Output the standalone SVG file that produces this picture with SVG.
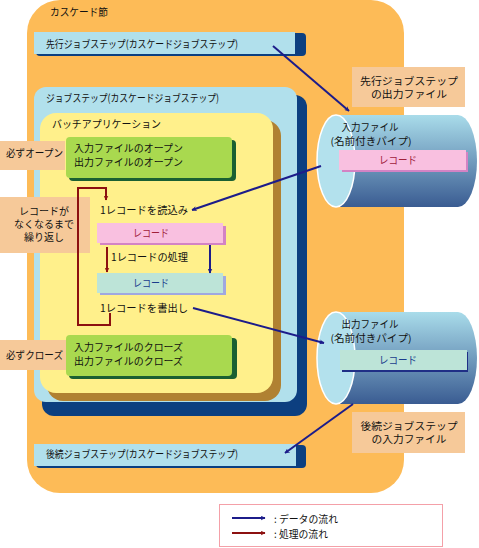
<svg xmlns="http://www.w3.org/2000/svg" width="479" height="548" viewBox="0 0 479 548">
<defs>
<linearGradient id="cyl" x1="0" y1="0" x2="0" y2="1">
<stop offset="0" stop-color="#a9dcea"/>
<stop offset="1" stop-color="#3a5c92"/>
</linearGradient>
<marker id="ab" viewBox="0 0 10 10" refX="9" refY="5" markerWidth="5" markerHeight="5" orient="auto" markerUnits="userSpaceOnUse">
<path d="M0,0 L10,5 L0,10 L3,5 Z" fill="#1c1c8a"/>
</marker>
<marker id="ar" viewBox="0 0 10 10" refX="9" refY="5" markerWidth="5" markerHeight="5" orient="auto" markerUnits="userSpaceOnUse">
<path d="M0,0 L10,5 L0,10 L3,5 Z" fill="#8c1010"/>
</marker>
</defs>
<style>
text{font-family:"Noto Sans CJK JP","Noto Sans",sans-serif;font-size:10.5px;fill:#111}
.c{text-anchor:middle}
.s{font-size:10px}
.peach{fill:#f6c999}
.lb{fill:#b1e0ec}
.db{fill:#0c3f80}
.blue{stroke:#1c1c8a;stroke-width:2;fill:none;marker-end:url(#ab)}
.redA{stroke:#8c1010;stroke-width:2;fill:none;marker-end:url(#ar)}
</style>

<g id="cascade">
<rect x="27" y="0" width="377" height="493" rx="33" fill="#fdbb57"/>
<text x="50" y="16" textLength="58" lengthAdjust="spacingAndGlyphs">カスケード節</text>
</g>

<g id="prevStep">
<rect x="36" y="33" width="270" height="23" rx="4" class="db"/>
<rect x="34" y="32" width="261" height="22" class="lb"/>
<text x="46" y="48" textLength="192" lengthAdjust="spacingAndGlyphs">先行ジョブステップ(カスケードジョブステップ)</text>
</g>

<g id="jobStep">
<rect x="42" y="95" width="265" height="321" rx="12" class="db"/>
<rect x="34" y="87" width="263" height="315" rx="12" class="lb"/>
<text x="46" y="102" textLength="173" lengthAdjust="spacingAndGlyphs">ジョブステップ(カスケードジョブステップ)</text>
</g>

<g id="batchApp">
<rect x="47" y="120" width="234" height="281" rx="16" fill="#b08132"/>
<rect x="40" y="113" width="233" height="280" rx="16" fill="#fff08b"/>
<text x="52" y="128" textLength="109" lengthAdjust="spacingAndGlyphs">バッチアプリケーション</text>
</g>

<g id="openBox">
<rect x="69" y="140" width="167" height="41" rx="4" fill="#1a6032"/>
<rect x="66" y="137" width="166" height="41" rx="4" fill="#a9d94f"/>
<text class="s" x="74" y="152" textLength="109" lengthAdjust="spacingAndGlyphs">入力ファイルのオープン</text>
<text class="s" x="74" y="166" textLength="109" lengthAdjust="spacingAndGlyphs">出力ファイルのオープン</text>
</g>

<g id="closeBox">
<rect x="69" y="338" width="168" height="41" rx="4" fill="#1a6032"/>
<rect x="66" y="335" width="166" height="41" rx="4" fill="#a9d94f"/>
<text class="s" x="74" y="351" textLength="109" lengthAdjust="spacingAndGlyphs">入力ファイルのクローズ</text>
<text class="s" x="74" y="365" textLength="109" lengthAdjust="spacingAndGlyphs">出力ファイルのクローズ</text>
</g>

<g id="mustOpen">
<rect x="0" y="141" width="65" height="29" class="peach"/>
<text x="6" y="157" textLength="57" lengthAdjust="spacingAndGlyphs">必ずオープン</text>
</g>

<g id="mustClose">
<rect x="0" y="340" width="66" height="30" class="peach"/>
<text x="6" y="359" textLength="57" lengthAdjust="spacingAndGlyphs">必ずクローズ</text>
</g>

<g id="repeat">
<rect x="0" y="197" width="90" height="56" class="peach"/>
<text class="c s" x="44" y="215">レコードが</text>
<text class="c s" x="44" y="228">なくなるまで</text>
<text class="c s" x="44" y="241">繰り返し</text>
</g>

<g id="readStep">
<text x="100" y="214" textLength="88" lengthAdjust="spacingAndGlyphs">1レコードを読込み</text>
</g>

<g id="recordIn">
<rect x="100" y="226" width="126" height="19" fill="#d383c4"/>
<rect x="97" y="223" width="126" height="20" fill="#f9c0e0"/>
<text class="c" x="151" y="237" style="fill:#a0203a" textLength="36" lengthAdjust="spacingAndGlyphs">レコード</text>
</g>

<g id="procStep">
<text x="111" y="261" textLength="77" lengthAdjust="spacingAndGlyphs">1レコードの処理</text>
</g>

<g id="recordOut">
<rect x="100" y="276" width="126" height="19" fill="#a0a8e0"/>
<rect x="97" y="273" width="126" height="20" fill="#bde4d8"/>
<text class="c" x="151" y="287" style="fill:#1a3c8c" textLength="36" lengthAdjust="spacingAndGlyphs">レコード</text>
</g>

<g id="writeStep">
<text x="100" y="312" textLength="88" lengthAdjust="spacingAndGlyphs">1レコードを書出し</text>
</g>

<g id="inputPipe">
<path d="M336,115 H458 A19,46 0 0 1 458,207 H336 Z" fill="url(#cyl)"/>
<ellipse cx="336" cy="161" rx="19" ry="46" fill="#b3e1ed" stroke="#ffffff" stroke-width="1.5"/>
<text class="c s" x="370" y="131" textLength="57" lengthAdjust="spacingAndGlyphs">入力ファイル</text>
<text class="c s" x="371" y="145" textLength="81" lengthAdjust="spacingAndGlyphs">(名前付きパイプ)</text>
<rect x="342" y="152" width="126" height="20" fill="#d383c4"/>
<rect x="339" y="150" width="127" height="20" fill="#f9c0e0"/>
<text class="c" x="398" y="164" style="fill:#a0203a" textLength="38" lengthAdjust="spacingAndGlyphs">レコード</text>
</g>

<g id="outputPipe">
<path d="M336,312 H458 A19,46 0 0 1 458,404 H336 Z" fill="url(#cyl)"/>
<ellipse cx="336" cy="358" rx="19" ry="46" fill="#b3e1ed" stroke="#ffffff" stroke-width="1.5"/>
<text class="c s" x="370" y="328" textLength="57" lengthAdjust="spacingAndGlyphs">出力ファイル</text>
<text class="c s" x="371" y="342" textLength="81" lengthAdjust="spacingAndGlyphs">(名前付きパイプ)</text>
<rect x="342" y="352" width="126" height="20" fill="#1f2f86"/>
<rect x="340" y="350" width="127" height="20" fill="#bde4d8"/>
<text class="c" x="398" y="364" style="fill:#1a3c8c" textLength="38" lengthAdjust="spacingAndGlyphs">レコード</text>
</g>

<g id="prevOutLabel">
<rect x="352" y="67" width="113" height="40" class="peach"/>
<text class="c s" x="409" y="85" textLength="98" lengthAdjust="spacingAndGlyphs">先行ジョブステップ</text>
<text class="c s" x="409" y="98" textLength="76" lengthAdjust="spacingAndGlyphs">の出力ファイル</text>
</g>

<g id="nextInLabel">
<rect x="352" y="412" width="113" height="41" class="peach"/>
<text class="c s" x="409" y="430" textLength="97" lengthAdjust="spacingAndGlyphs">後続ジョブステップ</text>
<text class="c s" x="409" y="443" textLength="75" lengthAdjust="spacingAndGlyphs">の入力ファイル</text>
</g>

<g id="nextStep">
<rect x="36" y="445" width="270" height="23" rx="4" class="db"/>
<rect x="34" y="444" width="262" height="22" class="lb"/>
<text x="46" y="458" textLength="192" lengthAdjust="spacingAndGlyphs">後続ジョブステップ(カスケードジョブステップ)</text>
</g>

<g id="legend">
<rect x="219.5" y="504.5" width="223" height="42" fill="#ffffff" stroke="#f4a0a8" stroke-width="1"/>
<line x1="232" y1="518" x2="265" y2="518" class="blue"/>
<text x="274" y="523" textLength="64" lengthAdjust="spacingAndGlyphs">: データの流れ</text>
<line x1="232" y1="533" x2="265" y2="533" class="redA"/>
<text x="274" y="538" textLength="54" lengthAdjust="spacingAndGlyphs">: 処理の流れ</text>
</g>

<g id="connectors">
<line x1="273" y1="46" x2="349" y2="111" class="blue"/>
<line x1="321" y1="166" x2="192" y2="210" class="blue"/>
<line x1="210" y1="245" x2="210" y2="273" class="blue"/>
<line x1="193" y1="308" x2="324" y2="343" class="blue"/>
<line x1="353" y1="404" x2="285" y2="453" class="blue"/>
<line x1="107" y1="247" x2="107" y2="272" class="redA"/>
<polyline points="110,313 110,325 78,325 78,188 106,188 106,200" class="redA"/>
</g>
</svg>
